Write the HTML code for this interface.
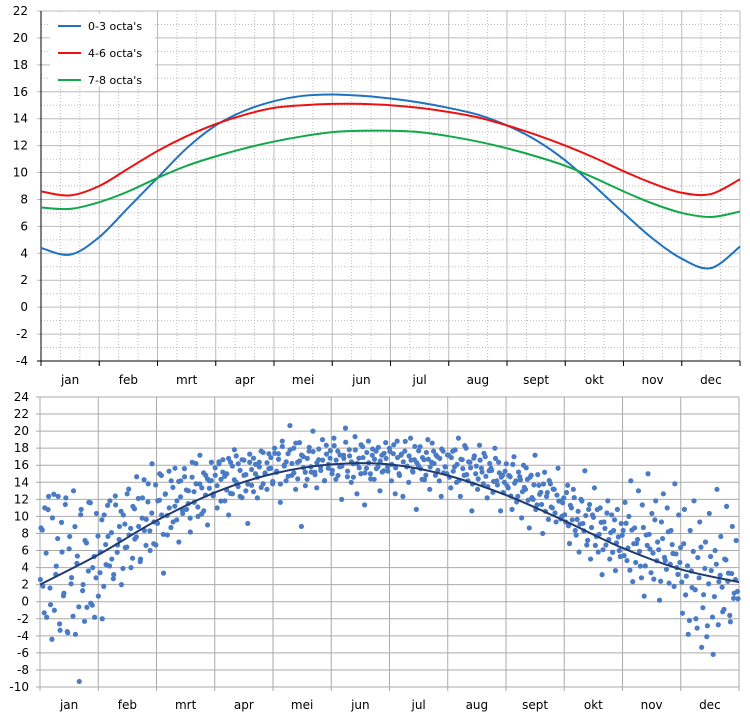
<!DOCTYPE html>
<html><head><meta charset="utf-8"><style>
body{margin:0;background:#fff;font-family:"DejaVu Sans","Liberation Sans",sans-serif}
svg{display:block}
</style></head><body>
<svg id="c" width="750" height="717"></svg>
<script>
const months=["jan","feb","mrt","apr","mei","jun","jul","aug","sept","okt","nov","dec"];
const topTicks=[22,20,18,16,14,12,10,8,6,4,2,0,-2,-4];
const botTicks=[24,22,20,18,16,14,12,10,8,6,4,2,0,-2,-4,-6,-8,-10];
const seriesNames=["0-3 octa's","4-6 octa's","7-8 octa's"];
const seriesBlue=[4.4,3.9,5.2,7.4,9.6,11.8,13.5,14.6,15.3,15.7,15.8,15.7,15.5,15.2,14.8,14.3,13.5,12.4,10.9,9.0,7.0,5.1,3.6,2.9,4.5];
const seriesRed=[8.6,8.3,9.0,10.3,11.6,12.7,13.6,14.3,14.8,15.0,15.1,15.1,15.0,14.8,14.5,14.1,13.5,12.8,12.0,11.1,10.1,9.2,8.5,8.4,9.5];
const seriesGreen=[7.4,7.3,7.8,8.6,9.6,10.5,11.2,11.8,12.3,12.7,13.0,13.1,13.1,13.0,12.7,12.3,11.8,11.2,10.5,9.6,8.6,7.7,7.0,6.7,7.1];
const trend=[2.0,5.5,9.5,12.8,15.0,16.1,16.1,14.8,12.5,9.5,6.3,3.8,2.3];
const daily=[
9,2,11,-2,12,0,10,-1,4,12,-3,6,1,12,-4,8,3,13,-4,5,-9,11,2,7,-1,12,0,4,-2,10,1,
6,-2,10,4,8,12,5,3,11,7,9,2,10,6,13,8,4,11,7,15,9,5,12,8,10,14,6,16,
9,7,12,15,10,3,13,8,11,14,9,16,12,7,14,10,15,11,13,8,16,12,14,10,17,13,11,15,9,14,16,
13,15,11,16,14,17,12,15,10,16,13,18,14,16,12,17,15,13,9,16,14,17,15,12,16,18,14,15,13,17,
16,14,18,15,17,12,19,16,14,17,21,15,18,13,16,19,9,17,15,14,18,16,20,15,13,17,16,19,14,18,16,
17,15,19,14,18,16,12,17,20,15,18,14,16,19,13,17,15,18,11,16,19,15,17,14,18,16,13,17,15,19,
16,18,14,17,13,19,15,17,12,18,16,14,19,15,17,11,16,18,14,17,15,19,13,16,18,15,17,14,12,18,16,
15,17,13,18,16,14,19,12,17,15,18,14,16,11,17,15,13,18,16,14,17,12,15,16,13,18,14,16,11,15,14,
16,13,15,11,17,14,12,15,10,16,13,14,9,15,12,17,11,14,13,8,15,12,10,14,11,13,9,16,12,10,
12,9,14,7,11,13,8,10,6,12,9,15,7,11,5,10,13,8,6,11,3,9,7,12,5,10,8,4,11,6,9,
8,12,5,10,14,2,9,7,13,4,11,1,8,15,6,10,3,12,7,0,9,13,5,11,2,8,6,14,4,10,
6,-1,11,3,-4,8,2,12,-2,5,9,-5,1,7,-3,10,4,-6,6,13,2,8,-1,5,11,3,-2,9,1,7,0];
const daily2=[
2.6,8.4,-1.3,5.7,10.8,1.6,-4.4,12.6,3.2,7.4,-2.6,9.3,0.7,11.4,-3.5,6.2,2.1,-1.7,8.8,4.5,-0.6,10.2,1.3,-2.3,6.9,3.6,11.6,-0.4,5.3,2.8,7.7,
3.4,9.6,1.8,6.7,11.3,4.2,8.1,2.7,12.4,5.8,7.3,10.6,3.9,9.1,6.4,13.2,8.6,5.1,10.9,7.6,12.1,4.7,9.8,14.3,6.6,11.7,8.3,
10.4,6.8,13.7,9.2,11.9,14.8,7.9,12.6,10.1,15.3,8.7,13.4,11.2,9.6,14.1,12.3,10.7,15.6,13.1,11.5,9.8,14.6,12.9,16.2,11.1,13.8,10.3,15.1,12.5,14.4,13.3,
14.2,12.4,15.7,13.6,16.4,11.8,15.2,14.7,13.1,16.8,12.7,15.9,14.3,17.1,13.5,15.4,12.2,16.6,14.9,13.8,17.3,15.5,12.9,16.1,14.6,15.8,13.4,17.5,15.1,16.3,
15.6,16.9,14.1,17.4,15.3,16.7,13.8,18.2,15.9,16.4,14.7,17.8,16.2,15.1,18.6,14.4,16.5,17.2,15.7,13.6,16.8,18.1,15.2,17.6,14.9,16.3,17.9,15.4,16.6,14.2,17.3,
16.1,17.7,15.4,18.3,16.6,14.8,17.2,15.9,16.8,18.7,15.3,17.1,16.4,14.6,17.8,16.2,15.7,18.4,16.9,15.1,17.5,16.3,14.4,17.9,16.7,15.6,18.1,16.5,15.2,17.4,
16.8,15.3,17.6,16.1,18.4,15.7,16.9,14.8,17.3,16.4,18.8,15.9,17.1,16.6,15.2,18.2,16.3,17.7,15.6,16.9,14.3,17.5,16.7,15.8,18.6,16.2,17.2,15.4,16.8,17.9,15.1,
15.8,17.2,14.6,16.9,15.3,17.8,16.1,14.2,16.7,15.6,18.3,14.9,16.4,15.7,13.8,17.1,15.9,14.4,16.6,15.2,17.4,14.7,13.5,16.2,15.4,14.1,16.8,13.7,15.1,14.6,12.8,
15.3,13.6,14.8,12.4,16.1,13.9,11.7,15.2,14.3,12.9,13.4,15.7,11.9,14.6,12.2,13.7,10.8,14.9,12.6,11.4,13.8,10.6,12.8,14.2,11.1,13.2,10.4,12.5,11.8,9.7,
11.6,10.2,12.8,8.9,11.3,9.6,12.2,7.8,10.6,9.1,11.8,8.3,10.1,7.2,11.4,8.7,9.9,6.6,10.8,7.9,9.3,6.1,8.6,10.4,7.3,8.1,5.8,9.6,6.9,7.6,5.3,
7.8,5.4,9.2,6.3,3.7,8.4,6.8,4.6,7.3,5.9,2.8,8.7,4.2,6.6,7.9,3.4,5.7,9.6,4.8,6.1,2.4,7.4,5.2,3.8,8.2,4.4,6.7,1.8,5.6,3.2,
4.6,2.3,6.8,0.8,4.2,-2.2,3.6,5.9,1.4,-3.1,2.8,6.4,-0.7,3.9,-4.1,2.1,5.3,-1.8,0.6,4.4,-2.7,3.1,1.7,-0.9,4.9,2.4,-1.6,3.3,0.4,2.6,1.2];

const NS="http://www.w3.org/2000/svg",svg=document.getElementById('c');
function mk(t,a,p){const e=document.createElementNS(NS,t);for(const k in a)e.setAttribute(k,a[k]);(p||svg).appendChild(e);return e;}
function smooth(pts){let d="M"+pts[0][0]+","+pts[0][1];for(let i=0;i<pts.length-1;i++){const p0=pts[Math.max(i-1,0)],p1=pts[i],p2=pts[i+1],p3=pts[Math.min(i+2,pts.length-1)];
d+=" C"+(p1[0]+(p2[0]-p0[0])/6)+","+(p1[1]+(p2[1]-p0[1])/6)+" "+(p2[0]-(p3[0]-p1[0])/6)+","+(p2[1]-(p3[1]-p1[1])/6)+" "+p2[0]+","+p2[1];}return d;}

// TOP chart
const T={l:41,r:740,t:11,b:361,min:-4,max:22};
const tx=f=>T.l+f*(T.r-T.l), ty=v=>T.b-(v-T.min)/(T.max-T.min)*(T.b-T.t);
const gt=mk('g',{});
for(let v=T.min;v<=T.max;v++){if(v%2){const l=mk('line',{x1:T.l,x2:T.r,y1:ty(v),y2:ty(v),stroke:'#bbb','stroke-dasharray':'1,2'},gt);}}
for(let i=0;i<36;i++){if(i%3){const x=tx(i/36);const l=mk('line',{x1:x,x2:x,y1:T.t,y2:T.b,stroke:'#bbb','stroke-dasharray':'1,2'},gt);}}
topTicks.forEach(v=>{const l=mk('line',{x1:T.l-4,x2:T.r,y1:ty(v),y2:ty(v),stroke:v===-4?'#000':'#bbb'},gt);
const t=mk('text',{x:28,y:ty(v)+4,'text-anchor':'end','font-size':12,fill:'#000'},gt);t.textContent=v;});
for(let m=0;m<=12;m++){const x=tx(m/12);const l=mk('line',{x1:x,x2:x,y1:T.t,y2:T.b+5,stroke:'#bbb'},gt);
mk('line',{x1:x,x2:x,y1:T.b,y2:T.b+5,stroke:'#000'},gt);}
mk('line',{x1:T.l,x2:T.l,y1:T.t,y2:T.b,stroke:'#000'},gt);
mk('line',{x1:T.l,x2:T.r,y1:T.b,y2:T.b,stroke:'#000'},gt);
months.forEach((m,i)=>{const t=mk('text',{x:tx((i+0.5)/12),y:384,'text-anchor':'middle','font-size':12},gt);t.textContent=m;});
const cols=['#1f72c0','#ee1111','#12a84a'];
[seriesBlue,seriesRed,seriesGreen].forEach((s,k)=>{const pts=s.map((v,i)=>[tx(i/(s.length-1)),ty(v)]);
const p=mk('path',{d:smooth(pts),fill:'none',stroke:cols[k],'stroke-width':2},gt);});
const lg=mk('g',{fill:'#fff'},gt);
mk('rect',{x:50,y:14,width:105,height:72,fill:'#fff'},lg);
seriesNames.forEach((n,k)=>{const y=26+k*27;mk('line',{x1:58,x2:81,y1:y,y2:y,stroke:cols[k],'stroke-width':2},lg);
const t=mk('text',{x:88,y:y+4,'font-size':11,fill:'#000'},lg);t.textContent=n;});

// BOTTOM chart
const B={l:40,r:739,t:397,b:687,min:-10,max:24};
const bx=f=>B.l+f*(B.r-B.l), by=v=>B.b-(v-B.min)/(B.max-B.min)*(B.b-B.t);
const gb=mk('g',{});
botTicks.forEach(v=>{const l=mk('line',{x1:B.l-4,x2:B.r,y1:by(v),y2:by(v),stroke:'#aaa'},gb);
const t=mk('text',{x:29,y:by(v)+4,'text-anchor':'end','font-size':12},gb);t.textContent=v;});
for(let m=0;m<=12;m++){const x=bx(m/12);const l=mk('line',{x1:x,x2:x,y1:B.t,y2:B.b+4,stroke:'#aaa'},gb);}
months.forEach((m,i)=>{const t=mk('text',{x:bx((i+0.5)/12),y:709,'text-anchor':'middle','font-size':12},gb);t.textContent=m;});
daily.forEach((v,i)=>{const c=mk('circle',{cx:bx((i+0.5)/daily.length),cy:by(v+0.35*((i%5)-2)/2),r:2.6,fill:'#4a7bc4'},gb);});
daily2.forEach((v,i)=>{const c=mk('circle',{cx:bx((i+0.2)/daily2.length),cy:by(v),r:2.6,fill:'#4a7bc4'},gb);});
const tp=mk('path',{d:smooth(trend.map((v,i)=>[bx(i/(trend.length-1)),by(v)])),fill:'none',stroke:'#1f3b70','stroke-width':2},gb);

</script>
</body></html>
